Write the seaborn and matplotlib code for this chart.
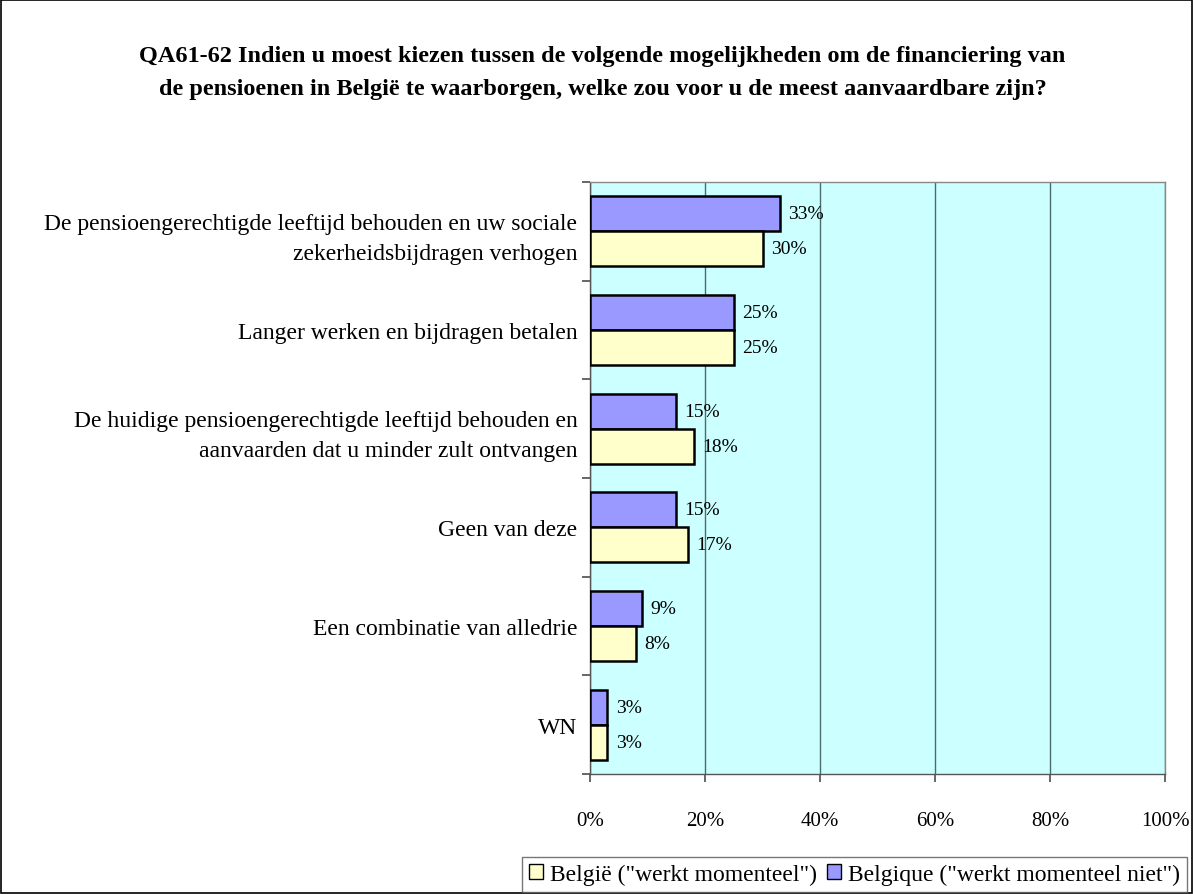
import pandas as pd
import matplotlib.pyplot as plt
import seaborn as sns
from matplotlib.patches import Rectangle, Patch

sns.set_theme(style="white")
plt.rcParams['font.family'] = ['Liberation Serif', 'DejaVu Serif']
plt.rcParams['text.color'] = 'black'
plt.rcParams['xtick.color'] = 'black'
plt.rcParams['ytick.color'] = 'black'

# data (percent)
categories = [
    "De pensioengerechtigde leeftijd behouden en uw sociale\nzekerheidsbijdragen verhogen",
    "Langer werken en bijdragen betalen",
    "De huidige pensioengerechtigde leeftijd behouden en\naanvaarden dat u minder zult ontvangen",
    "Geen van deze",
    "Een combinatie van alledrie",
    "WN",
]
werkt_niet = [33, 25, 15, 15, 9, 3]
werkt = [30, 25, 18, 17, 8, 3]

lbl_werkt = 'België ("werkt momenteel")'
lbl_niet = 'Belgique ("werkt momenteel niet")'
col_werkt = "#FFFFCC"
col_niet = "#9999FF"

df = pd.DataFrame({
    "cat": categories * 2,
    "val": werkt_niet + werkt,
    "grp": [lbl_niet] * len(categories) + [lbl_werkt] * len(categories),
})

fig = plt.figure(figsize=(11.93, 8.95), dpi=100)
ax = fig.add_axes([590 / 1193, 1 - 775 / 895, (1165 - 590) / 1193, (775 - 183) / 895])
ax.set_facecolor("#CCFFFF")

sns.barplot(data=df, y="cat", x="val", hue="grp", hue_order=[lbl_niet, lbl_werkt],
            palette=[col_niet, col_werkt], saturation=1, orient="h", width=0.71, dodge=True,
            edgecolor="black", linewidth=1.8, legend=False, ax=ax, zorder=3)

# value labels
for cont in ax.containers:
    for bar in cont:
        w = bar.get_width()
        ax.annotate(f"{w:.0f}%", (w, bar.get_y() + bar.get_height() / 2),
                    xytext=(6, 0), textcoords="offset points",
                    ha="left", va="center", fontsize=14, zorder=4)

ax.set_xlim(0, 100)
ax.set_ylim(len(categories) - 0.5, -0.5)
ax.set_xticks(range(0, 101, 20))
ax.set_xticklabels([f"{t}%" for t in range(0, 101, 20)], fontsize=15)
ax.xaxis.grid(True, color="#4d6b6b", linewidth=1, zorder=1)
ax.yaxis.grid(False)
ax.set_axisbelow(True)

# category labels as minor ticks, tick marks at the boundaries
ax.set_yticks([i - 0.5 for i in range(len(categories) + 1)])
ax.set_yticklabels([])
ax.set_yticks(range(len(categories)), minor=True)
ax.set_yticklabels(categories, minor=True, fontsize=17, ha="right", linespacing=1.55)
ax.tick_params(axis="y", which="major", length=6, direction="out", left=True, color="#555555")
ax.tick_params(axis="y", which="minor", length=0, pad=9)
ax.tick_params(axis="x", length=6, direction="out", bottom=True, color="#555555", pad=21)
ax.set_xlabel("")
ax.set_ylabel("")
for s in ax.spines.values():
    s.set_color("#888888")
    s.set_linewidth(1)
ax.spines["left"].set_color("#555555")
ax.spines["bottom"].set_color("#555555")

fig.text(0.505, 1 - 73 / 895,
         "QA61-62 Indien u moest kiezen tussen de volgende mogelijkheden om de financiering van\n"
         "de pensioenen in België te waarborgen, welke zou voor u de meest aanvaardbare zijn?",
         ha="center", va="center", fontsize=17.5, fontweight="bold", linespacing=1.75)

handles = [Patch(facecolor=col_werkt, edgecolor="black"), Patch(facecolor=col_niet, edgecolor="black")]
fig.legend(handles, [lbl_werkt, lbl_niet], loc="lower right", bbox_to_anchor=(1187 / 1193, 0.002),
           ncol=2, frameon=True, fontsize=17, handlelength=0.6, handleheight=0.6,
           handletextpad=0.3, columnspacing=0.4, fancybox=False, edgecolor="#555555",
           borderpad=0.3, borderaxespad=0)

fig.add_artist(Rectangle((0.001, 0.001), 0.998, 0.998, transform=fig.transFigure,
                         fill=False, edgecolor="black", linewidth=1.2))

fig.savefig("out.png", dpi=100)
